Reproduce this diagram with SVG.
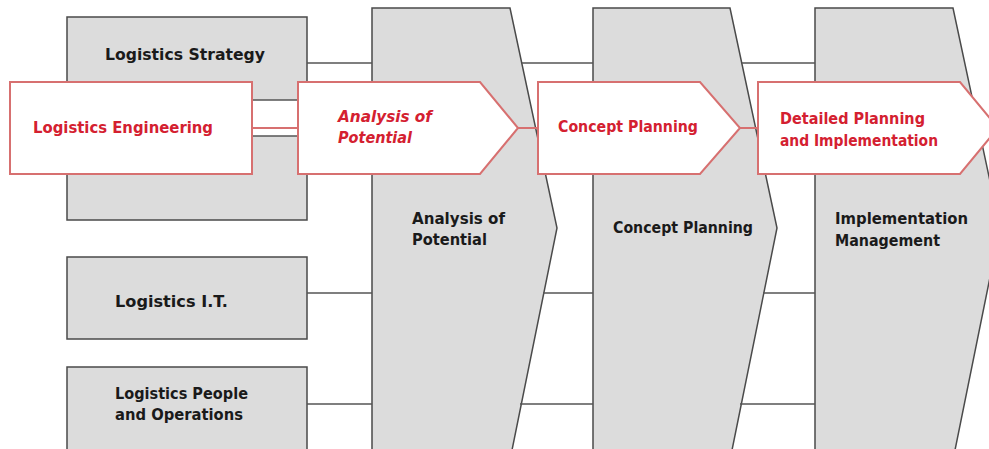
<svg xmlns="http://www.w3.org/2000/svg" width="989" height="449" viewBox="0 0 989 449">
<style>
.g{fill:#dcdcdc;stroke:#4a4a4a;stroke-width:1.5}
.r{fill:#ffffff;stroke:#d77070;stroke-width:2}
.ln{stroke:#555;stroke-width:1.5;fill:none}
.rl{stroke:#d77070;stroke-width:2;fill:none}
.t{font-family:"DejaVu Sans",Verdana,sans-serif;font-weight:bold;font-size:15px;fill:#1a1a1a}
.tr{font-family:"DejaVu Sans",Verdana,sans-serif;font-weight:bold;font-size:15px;fill:#d42030}
</style>
<rect width="989" height="449" fill="#ffffff"/>
<g id="strategy"><rect class="g" x="67" y="17" width="240" height="203"/>
<text class="t" x="105" y="60" textLength="160" lengthAdjust="spacingAndGlyphs">Logistics Strategy</text></g>
<g id="it"><rect class="g" x="67" y="257" width="240" height="82"/>
<text class="t" x="115" y="307" textLength="113" lengthAdjust="spacingAndGlyphs">Logistics I.T.</text></g>
<g id="people"><rect class="g" x="67" y="367" width="240" height="90"/>
<text class="t" x="115" y="399" textLength="133" lengthAdjust="spacingAndGlyphs">Logistics People</text>
<text class="t" x="115" y="420" textLength="128" lengthAdjust="spacingAndGlyphs">and Operations</text></g>
<g id="phase-analysis"><path class="g" d="M372,460 L372,8 L510,8 L557,228 L510,460"/>
<text class="t" x="412" y="224" textLength="93" lengthAdjust="spacingAndGlyphs">Analysis of</text>
<text class="t" x="412" y="245" textLength="75" lengthAdjust="spacingAndGlyphs">Potential</text></g>
<g id="phase-concept"><path class="g" d="M593,460 L593,8 L730,8 L777,228 L730,460"/>
<text class="t" x="613" y="233" textLength="140" lengthAdjust="spacingAndGlyphs">Concept Planning</text></g>
<g id="phase-implementation"><path class="g" d="M815,460 L815,8 L953,8 L1000,228 L953,460"/>
<text class="t" x="835" y="224" textLength="133" lengthAdjust="spacingAndGlyphs">Implementation</text>
<text class="t" x="835" y="246" textLength="105" lengthAdjust="spacingAndGlyphs">Management</text></g>
<g id="connectors">
<path class="ln" d="M307,63H372M522,63H593M742,63H815"/>
<path class="ln" d="M307,293H372M543,293H593M763,293H815"/>
<path class="ln" d="M307,404H372M520,404H593M740,404H815"/>
<rect x="252" y="100" width="46" height="36" fill="#ffffff"/>
<path class="ln" d="M252,100H298M252,136H298"/>
<path class="rl" d="M252,128H298M518,128H538M740,128H758"/>
</g>
<g id="engineering"><rect class="r" x="10" y="82" width="242" height="92"/>
<text class="tr" x="33" y="133" textLength="180" lengthAdjust="spacingAndGlyphs">Logistics Engineering</text></g>
<g id="red-analysis"><path class="r" d="M298,82H480L518,128L480,174H298Z"/>
<text class="tr" x="338" y="122" font-style="italic" textLength="94" lengthAdjust="spacingAndGlyphs">Analysis of</text>
<text class="tr" x="338" y="143" font-style="italic" textLength="74" lengthAdjust="spacingAndGlyphs">Potential</text></g>
<g id="red-concept"><path class="r" d="M538,82H700L740,128L700,174H538Z"/>
<text class="tr" x="558" y="132" textLength="140" lengthAdjust="spacingAndGlyphs">Concept Planning</text></g>
<g id="red-detailed"><path class="r" d="M758,82H960L998,128L960,174H758Z"/>
<text class="tr" x="780" y="124" textLength="145" lengthAdjust="spacingAndGlyphs">Detailed Planning</text>
<text class="tr" x="780" y="146" textLength="158" lengthAdjust="spacingAndGlyphs">and Implementation</text></g>
</svg>
